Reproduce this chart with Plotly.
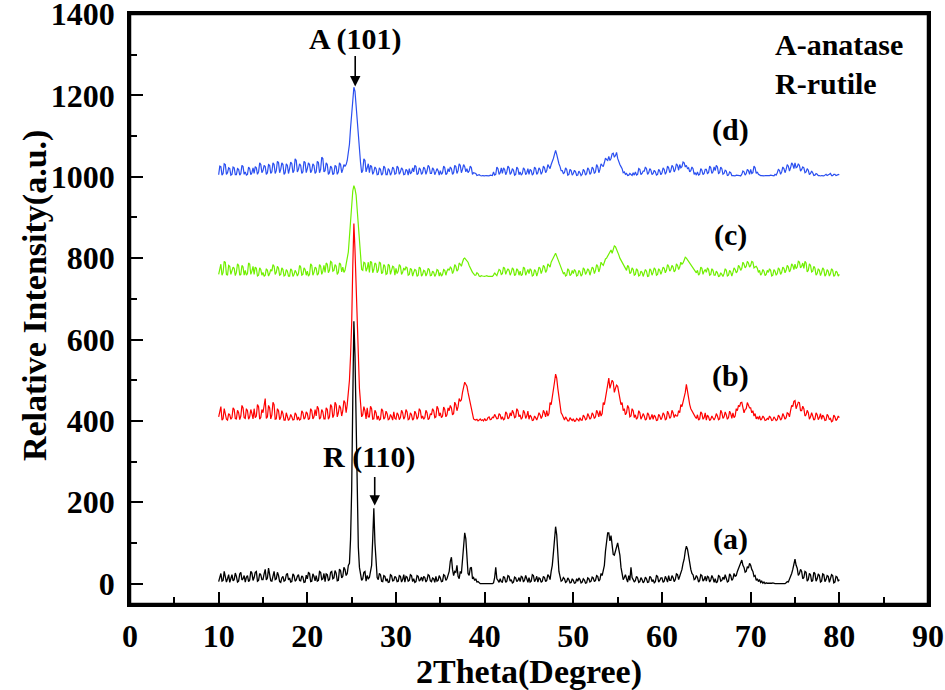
import numpy as np
import plotly.graph_objects as go

# (a) black, 2-theta 10..80 deg, 0.125 deg step (8 values per degree)
series_a = [
    5, 18, 25, 6, 8, 30, 20, 4,   12, 22, 3, 15, 22, 7, 10, 26,   18, 4, 6, 24, 28, 9, 12, 20,
    4, 16, 20, 5, 9, 30, 26, 8,   15, 28, 30, 6, 8, 25, 22, 10,   10, 24, 35, 9, 14, 38, 25, 7,
    6, 22, 30, 10, 12, 28, 20, 5,   3, 14, 18, 6, 8, 22, 25, 9,   14, 4, 5, 24, 20, 6, 9, 18,
    22, 8, 7, 19, 16, 3, 4, 21,   12, 27, 25, 5, 6, 24, 18, 7,   20, 6, 8, 30, 28, 10, 12, 25,
    5, 24, 22, 8, 10, 28, 30, 12,   14, 32, 26, 7, 8, 36, 32, 14,   18, 40, 35, 20, 25, 45, 50, 110,
    230, 450, 645, 560, 420, 220, 90, 40,   25, 8, 12, 28, 30, 6, 20, 12,   15, 30, 45, 110, 185, 100, 45, 15,
    10, 25, 22, 6, 5, 20, 18, 6,   12, 3, 4, 22, 20, 7, 8, 18,   15, 5, 6, 20, 18, 4, 10, 22,
    4, 18, 16, 6, 8, 22, 20, 5,   12, 3, 5, 20, 18, 6, 10, 16,   6, 18, 15, 4, 9, 22, 20, 7,
    5, 14, 12, 3, 18, 6, 8, 20,   14, 5, 6, 22, 20, 8, 12, 25,   30, 55, 65, 35, 20, 30, 28, 45,
    18, 12, 30, 25, 55, 90, 125, 110,   60, 25, 20, 38, 40, 12, 15, 8,   12, 4, 5, 2, 0, 0, 0, 0,
    0, 0, 0, 0, 0, 0, 0, 0,   2, 15, 40, 12, 8, 3, 12, 5,   4, 18, 15, 3, 6, 20, 18, 6,
    10, 2, 4, 16, 14, 5, 8, 15,   5, 18, 16, 4, 9, 20, 12, 3,   15, 4, 6, 22, 20, 5, 10, 18,
    4, 14, 12, 3, 6, 18, 15, 5,   8, 22, 18, 10, 30, 45, 75, 110,   140, 120, 60, 30, 18, 6, 8, 15,
    12, 3, 5, 14, 10, 2, 3, 12,   8, 1, 2, 12, 6, 14, 10, 2,   4, 12, 9, 1, 2, 14, 12, 4,
    6, 16, 14, 5, 8, 20, 18, 6,   10, 25, 20, 30, 45, 80, 110, 125,   125, 105, 118, 95, 72, 70, 80, 95,
    100, 85, 70, 40, 25, 10, 15, 22,   12, 4, 20, 8, 40, 15, 10, 4,   8, 18, 14, 3, 5, 15, 10, 2,
    6, 16, 12, 3, 4, 18, 15, 5,   10, 2, 5, 20, 18, 4, 8, 14,   14, 3, 6, 18, 12, 4, 20, 8,
    8, 20, 15, 5, 10, 24, 22, 10,   18, 25, 35, 50, 60, 80, 92, 85,   65, 45, 35, 25, 22, 10, 12, 20,
    15, 4, 8, 22, 20, 6, 10, 18,   6, 18, 16, 4, 9, 20, 14, 3,   12, 2, 5, 20, 18, 6, 8, 16,
    10, 22, 15, 4, 6, 24, 20, 8,   12, 25, 18, 20, 30, 38, 45, 55,   58, 45, 40, 28, 30, 42, 38, 50,
    45, 35, 30, 18, 20, 8, 12, 5,   10, 3, 6, 1, 4, 0, 2, 1,   1, 0, 0, 1, 2, 0, 0, 0,
    0, 0, 1, 0, 0, 1, 0, 0,   2, 5, 4, 10, 15, 25, 35, 45,   60, 45, 38, 20, 25, 35, 30, 12,
    15, 30, 28, 6, 10, 25, 22, 5,   8, 28, 25, 6, 12, 24, 20, 4,   6, 24, 22, 5, 10, 20, 18, 3,
    12, 22, 20, 2, 4, 18, 16, 6,
    10,
]

# (b) red
series_b = [
    410, 425, 435, 402, 405, 430, 420, 404,   402, 418, 415, 404, 408, 432, 428, 406,   405, 426, 420, 403, 412, 438, 432, 408,
    406, 430, 425, 404, 410, 428, 418, 405,   430, 408, 412, 440, 435, 404, 408, 428,   420, 445, 455, 406, 410, 438, 432, 405,
    415, 446, 440, 404, 405, 430, 425, 403,   408, 425, 418, 402, 402, 420, 412, 401,   405, 416, 410, 402, 403, 420, 415, 402,
    410, 402, 404, 425, 420, 404, 408, 422,   418, 403, 406, 430, 425, 405, 410, 428,   412, 436, 430, 404, 408, 428, 422, 405,
    405, 432, 428, 404, 410, 440, 435, 408,   415, 446, 440, 410, 420, 438, 432, 412,   425, 450, 445, 420, 440, 470, 500, 560,
    640, 780, 885, 820, 740, 620, 540, 480,   445, 410, 415, 435, 425, 405, 432, 410,   410, 436, 430, 404, 405, 426, 420, 403,
    412, 402, 404, 430, 425, 404, 408, 424,   418, 403, 405, 416, 410, 402, 422, 406,   404, 420, 415, 403, 408, 426, 420, 404,
    410, 428, 422, 403, 405, 420, 415, 402,   406, 424, 418, 404, 410, 430, 425, 406,   412, 404, 408, 426, 420, 403, 406, 418,
    415, 430, 425, 408, 410, 436, 430, 412,   420, 408, 412, 434, 428, 410, 415, 432,   425, 438, 432, 415, 418, 446, 440, 425,
    435, 455, 448, 452, 470, 485, 495, 490,   485, 470, 455, 440, 430, 412, 405, 403,   402, 404, 400, 402, 405, 401, 403, 400,
    406, 401, 402, 408, 410, 403, 404, 409,   408, 416, 412, 405, 406, 418, 415, 404,   410, 403, 405, 422, 418, 405, 408, 420,
    412, 426, 420, 408, 410, 430, 425, 410,   415, 404, 408, 426, 420, 406, 412, 424,   404, 414, 410, 401, 402, 412, 408, 402,
    410, 420, 415, 406, 412, 426, 420, 410,   425, 412, 418, 445, 440, 455, 470, 495,   515, 505, 480, 455, 440, 420, 415, 405,
    402, 410, 406, 400, 400, 408, 404, 401,   405, 399, 400, 406, 403, 400, 408, 402,   402, 414, 410, 403, 405, 418, 412, 404,
    408, 420, 415, 406, 410, 426, 420, 410,   425, 412, 418, 445, 440, 455, 470, 490,   505, 480, 490, 500, 495, 470, 480, 488,
    485, 470, 460, 440, 445, 425, 430, 415,   420, 438, 432, 410, 412, 430, 425, 408,   415, 404, 408, 425, 420, 404, 410, 418,
    412, 402, 405, 420, 415, 403, 408, 416,   404, 414, 410, 401, 402, 416, 412, 403,   408, 420, 415, 403, 405, 424, 418, 406,
    410, 426, 420, 408, 415, 412, 412, 425,   420, 440, 435, 445, 455, 470, 490, 470,   455, 440, 430, 425, 420, 412, 410, 406,
    415, 402, 405, 422, 418, 404, 408, 420,   402, 414, 410, 401, 404, 412, 406, 402,   408, 418, 412, 403, 405, 426, 420, 406,
    410, 422, 415, 404, 408, 424, 418, 406,   420, 408, 412, 430, 425, 438, 435, 445,   446, 430, 420, 428, 430, 445, 440, 432,
    432, 420, 425, 412, 418, 405, 410, 404,   412, 402, 405, 412, 408, 401, 402, 406,   404, 412, 408, 401, 402, 410, 406, 401,
    403, 414, 410, 402, 406, 418, 412, 404,   408, 420, 418, 410, 425, 438, 435, 448,   450, 430, 438, 446, 445, 425, 425, 436,
    430, 412, 415, 426, 420, 404, 410, 420,   412, 402, 405, 420, 415, 403, 408, 418,   404, 414, 410, 401, 402, 416, 412, 403,
    406, 398, 400, 414, 410, 401, 404, 412,
    408,
]

# (c) green
series_c = [
    760, 778, 785, 758, 765, 792, 790, 760,   758, 782, 780, 760, 770, 778, 775, 757,   765, 786, 782, 758, 760, 782, 778, 758,
    770, 758, 762, 788, 785, 760, 768, 780,   760, 778, 775, 756, 758, 776, 772, 758,   765, 755, 758, 774, 770, 756, 762, 772,
    768, 784, 780, 760, 765, 780, 775, 758,   760, 776, 772, 756, 758, 772, 768, 756,   756, 774, 770, 755, 760, 770, 765, 756,
    762, 782, 778, 758, 760, 776, 772, 758,   768, 756, 760, 786, 782, 758, 765, 778,   775, 758, 762, 784, 780, 760, 768, 782,
    765, 788, 785, 764, 770, 792, 790, 768,   770, 784, 780, 760, 765, 788, 785, 766,   778, 765, 770, 790, 800, 815, 850, 900,
    935, 965, 978, 970, 955, 920, 880, 840,   800, 772, 770, 790, 788, 768, 775, 790,   765, 792, 790, 764, 772, 788, 785, 764,
    770, 790, 788, 762, 765, 784, 780, 760,   762, 785, 782, 760, 770, 780, 778, 758,   775, 762, 768, 784, 780, 760, 765, 776,
    770, 778, 776, 758, 760, 775, 772, 756,   765, 772, 770, 755, 758, 778, 775, 756,   760, 770, 768, 756, 762, 775, 772, 757,
    758, 768, 765, 755, 760, 772, 770, 756,   765, 756, 760, 772, 770, 758, 768, 774,   770, 778, 775, 762, 768, 784, 780, 768,
    772, 788, 785, 780, 790, 798, 800, 796,   795, 790, 782, 775, 770, 765, 762, 758,   758, 764, 762, 756, 755, 757, 756, 755,
    755, 756, 757, 755, 755, 756, 756, 755,   758, 764, 760, 757, 765, 772, 770, 760,   762, 778, 775, 760, 768, 774, 770, 758,
    765, 776, 772, 757, 760, 774, 770, 758,   768, 757, 760, 778, 775, 758, 765, 772,   762, 774, 770, 756, 758, 772, 768, 756,
    765, 778, 775, 762, 770, 782, 778, 765,   770, 786, 782, 778, 790, 795, 800, 806,   812, 805, 798, 790, 785, 775, 770, 762,
    765, 756, 758, 774, 770, 757, 760, 770,   762, 772, 768, 756, 758, 770, 766, 756,   760, 776, 772, 760, 765, 774, 770, 758,
    768, 778, 775, 762, 770, 784, 780, 766,   775, 790, 785, 782, 790, 798, 800, 806,   810, 818, 820, 812, 825, 830, 828, 822,
    818, 808, 800, 795, 790, 784, 780, 772,   770, 782, 778, 762, 765, 776, 772, 758,   760, 774, 770, 756, 758, 768, 765, 755,
    762, 772, 768, 755, 756, 774, 770, 758,   765, 776, 772, 758, 760, 774, 770, 760,   768, 778, 775, 764, 770, 784, 780, 768,
    772, 782, 778, 766, 770, 786, 782, 772,   778, 790, 785, 788, 795, 802, 800, 796,   790, 788, 785, 778, 775, 770, 768, 764,
    770, 758, 762, 778, 775, 760, 768, 772,   765, 776, 772, 758, 760, 774, 770, 758,   758, 768, 764, 755, 756, 764, 760, 755,
    762, 774, 770, 756, 758, 770, 766, 756,   765, 776, 772, 764, 768, 782, 778, 770,   775, 790, 785, 776, 780, 792, 788, 778,
    782, 792, 790, 776, 778, 780, 775, 765,   770, 758, 762, 772, 768, 757, 760, 770,   765, 774, 770, 756, 758, 772, 768, 758,
    762, 776, 772, 760, 765, 778, 775, 764,   770, 782, 778, 766, 772, 786, 782, 772,   785, 774, 778, 792, 790, 776, 780, 788,
    775, 792, 788, 766, 770, 786, 782, 766,   768, 780, 775, 758, 762, 774, 770, 757,   765, 776, 772, 756, 760, 772, 768, 756,
    762, 774, 770, 755, 758, 768, 765, 756,
    760,
]

# (d) blue
series_d = [
    1005, 1026, 1025, 1004, 1008, 1032, 1030, 1006,   1010, 1022, 1020, 1004, 1006, 1024, 1022, 1005,   1005, 1020, 1018, 1004, 1008, 1028, 1025, 1006,
    1012, 1004, 1006, 1024, 1020, 1005, 1010, 1022,   1008, 1025, 1022, 1006, 1012, 1034, 1030, 1010,   1015, 1028, 1025, 1006, 1010, 1030, 1028, 1008,
    1012, 1034, 1030, 1008, 1015, 1038, 1035, 1010,   1018, 1034, 1030, 1006, 1010, 1032, 1028, 1008,   1020, 1036, 1032, 1010, 1015, 1044, 1040, 1012,
    1018, 1032, 1028, 1008, 1012, 1038, 1035, 1010,   1020, 1034, 1030, 1010, 1015, 1032, 1028, 1008,   1012, 1038, 1035, 1010, 1018, 1048, 1045, 1012,
    1015, 1034, 1030, 1006, 1010, 1026, 1022, 1005,   1008, 1028, 1025, 1006, 1012, 1034, 1030, 1010,   1018, 1030, 1026, 1030, 1040, 1055, 1080, 1120,
    1160, 1195, 1220, 1210, 1175, 1130, 1085, 1050,   1035, 1010, 1015, 1044, 1040, 1012, 1020, 1032,   1010, 1028, 1025, 1006, 1012, 1024, 1020, 1005,
    1006, 1022, 1018, 1004, 1008, 1026, 1022, 1005,   1005, 1020, 1016, 1004, 1010, 1024, 1020, 1006,   1008, 1026, 1022, 1006, 1012, 1022, 1018, 1005,
    1006, 1018, 1015, 1004, 1020, 1008, 1010, 1022,   1012, 1028, 1025, 1005, 1008, 1022, 1018, 1006,   1010, 1024, 1020, 1006, 1014, 1028, 1024, 1008,
    1008, 1022, 1018, 1005, 1012, 1020, 1015, 1004,   1015, 1006, 1010, 1026, 1022, 1005, 1008, 1020,   1012, 1024, 1020, 1006, 1010, 1028, 1025, 1008,
    1015, 1032, 1028, 1010, 1018, 1030, 1025, 1012,   1020, 1010, 1014, 1026, 1022, 1006, 1010, 1008,   1008, 1003, 1004, 1005, 1003, 1002, 1003, 1002,
    1002, 1003, 1003, 1002, 1002, 1004, 1004, 1003,   1012, 1004, 1006, 1024, 1020, 1006, 1010, 1022,   1008, 1022, 1018, 1005, 1012, 1026, 1022, 1006,
    1010, 1020, 1016, 1004, 1006, 1024, 1020, 1005,   1012, 1004, 1008, 1022, 1018, 1005, 1010, 1020,   1006, 1018, 1015, 1004, 1008, 1024, 1020, 1006,
    1010, 1022, 1018, 1006, 1012, 1026, 1022, 1010,   1015, 1030, 1025, 1020, 1030, 1036, 1045, 1055,   1065, 1055, 1040, 1032, 1025, 1015, 1015, 1008,
    1010, 1022, 1018, 1004, 1006, 1018, 1015, 1004,   1008, 1016, 1012, 1003, 1004, 1014, 1010, 1003,   1006, 1018, 1014, 1004, 1008, 1022, 1018, 1006,
    1010, 1024, 1020, 1008, 1012, 1030, 1025, 1010,   1018, 1032, 1028, 1025, 1035, 1046, 1042, 1040,   1050, 1040, 1045, 1056, 1058, 1048, 1052, 1060,
    1045, 1036, 1030, 1025, 1020, 1010, 1012, 1006,   1008, 1003, 1004, 1008, 1006, 1003, 1010, 1004,   1012, 1004, 1006, 1020, 1018, 1005, 1008, 1014,
    1014, 1024, 1020, 1006, 1010, 1020, 1016, 1005,   1008, 1016, 1012, 1004, 1006, 1018, 1014, 1005,   1010, 1022, 1018, 1006, 1012, 1026, 1022, 1010,
    1015, 1028, 1024, 1012, 1018, 1032, 1028, 1016,   1030, 1022, 1025, 1036, 1034, 1024, 1028, 1020,   1022, 1012, 1015, 1024, 1020, 1006, 1010, 1004,
    1012, 1004, 1006, 1020, 1016, 1005, 1008, 1018,   1018, 1008, 1010, 1026, 1022, 1008, 1012, 1024,   1015, 1028, 1024, 1008, 1010, 1024, 1020, 1006,
    1008, 1016, 1014, 1003, 1004, 1012, 1010, 1003,   1003, 1002, 1002, 1004, 1004, 1003, 1003, 1002,   1006, 1014, 1012, 1004, 1008, 1018, 1015, 1006,
    1018, 1008, 1010, 1026, 1022, 1008, 1012, 1006,   1004, 1003, 1003, 1002, 1002, 1003, 1003, 1002,   1002, 1003, 1004, 1003, 1003, 1002, 1006, 1004,
    1010, 1018, 1016, 1006, 1012, 1024, 1020, 1010,   1018, 1030, 1026, 1014, 1022, 1034, 1030, 1020,   1034, 1022, 1024, 1032, 1028, 1014, 1018, 1024,
    1022, 1010, 1012, 1020, 1016, 1005, 1008, 1014,   1010, 1003, 1004, 1008, 1006, 1003, 1003, 1002,   1003, 1002, 1002, 1004, 1006, 1003, 1004, 1006,
    1008, 1003, 1003, 1006, 1006, 1003, 1004, 1006,
    1005,
]

for _s in (series_a, series_b, series_c, series_d):
    if len(_s) != 561:
        raise ValueError(f"series length {len(_s)} != 561")

# 2-theta grid (degrees)
two_theta = np.round(np.linspace(10, 80, 561), 3)

series_names = ["(a)", "(b)", "(c)", "(d)"]
series_colors = ["#000000", "#ff0000", "#70f000", "#2a4ff0"]
series_widths = [1.3, 1.2, 1.2, 1.2]

x_tick_vals = [0, 10, 20, 30, 40, 50, 60, 70, 80, 90]
y_tick_vals = [0, 200, 400, 600, 800, 1000, 1200, 1400]

FONT = "Liberation Serif"

fig = go.Figure()
for ys, name, col, w in zip([series_a, series_b, series_c, series_d], series_names, series_colors, series_widths):
    fig.add_trace(go.Scatter(x=two_theta, y=ys, mode="lines", name=name,
                             line=dict(color=col, width=w), showlegend=False))

txt = dict(family=FONT, size=30, color="black", weight="bold")

annos = []
for label, yv in zip(series_names, [110, 510, 857, 1115]):
    annos.append(dict(x=67.7, y=yv, xref="x", yref="y", text=label, showarrow=False, font=txt))
annos.append(dict(x=25.4, y=1338, xref="x", yref="y", text="A (101)", showarrow=False, font=txt))
annos.append(dict(x=27.0, y=312, xref="x", yref="y", text="R (110)", showarrow=False, font=txt))
annos.append(dict(x=25.4, y=1222, xref="x", yref="y", text="", showarrow=True, ax=0, ay=-32,
                  arrowhead=2, arrowsize=1.3, arrowwidth=1.6, arrowcolor="black"))
annos.append(dict(x=27.6, y=192, xref="x", yref="y", text="", showarrow=True, ax=0, ay=-30,
                  arrowhead=2, arrowsize=1.3, arrowwidth=1.6, arrowcolor="black"))
annos.append(dict(x=72.5, y=1326, xref="x", yref="y", text="A-anatase", showarrow=False,
                  xanchor="left", font=txt))
annos.append(dict(x=72.5, y=1228, xref="x", yref="y", text="R-rutile", showarrow=False,
                  xanchor="left", font=txt))
# axis titles
annos.append(dict(x=0.5, y=-0.116, xref="paper", yref="paper", text="2Theta(Degree)", showarrow=False,
                  xanchor="center", yanchor="middle",
                  font=dict(family=FONT, size=34, color="black", weight="bold")))
annos.append(dict(x=-0.119, y=0.522, xref="paper", yref="paper", text="Relative Intensity(a.u.)", showarrow=False,
                  textangle=-90, xanchor="center", yanchor="middle",
                  font=dict(family=FONT, size=34, color="black", weight="bold")))

fig.update_layout(
    width=945, height=690,
    margin=dict(l=130, r=17, t=14, b=86),
    plot_bgcolor="white", paper_bgcolor="white",
    annotations=annos,
    font=dict(family=FONT, color="black"),
    shapes=[dict(type="rect", xref="paper", yref="paper", x0=0, y0=0, x1=1, y1=1,
                 line=dict(color="black", width=2.5), fillcolor="rgba(0,0,0,0)", layer="above")],
)
fig.update_xaxes(
    range=[0, 90], tickvals=x_tick_vals, ticks="inside", ticklen=12, tickwidth=2, tickcolor="black",
    minor=dict(dtick=5, tick0=0, ticks="inside", ticklen=7, tickwidth=2, tickcolor="black"),
    showline=True, linewidth=2.5, linecolor="black", mirror=True, showgrid=False, zeroline=False,
    tickfont=dict(family=FONT, size=32, color="black", weight="bold"),
    ticklabelstandoff=2, automargin=False, ticklabeloverflow="allow",
)
fig.update_yaxes(
    range=[-50, 1400], tickvals=y_tick_vals, ticks="inside", ticklen=13, tickwidth=2, tickcolor="black",
    minor=dict(dtick=100, tick0=0, ticks="inside", ticklen=7, tickwidth=2, tickcolor="black"),
    showline=True, linewidth=2.5, linecolor="black", mirror=True, showgrid=False, zeroline=False,
    tickfont=dict(family=FONT, size=32, color="black", weight="bold"),
    ticklabelstandoff=6, automargin=False, ticklabeloverflow="allow",
)

fig.write_html("out.html", config={"displayModeBar": False},
               post_script="document.body.style.margin='0';document.body.style.overflow='hidden';")
